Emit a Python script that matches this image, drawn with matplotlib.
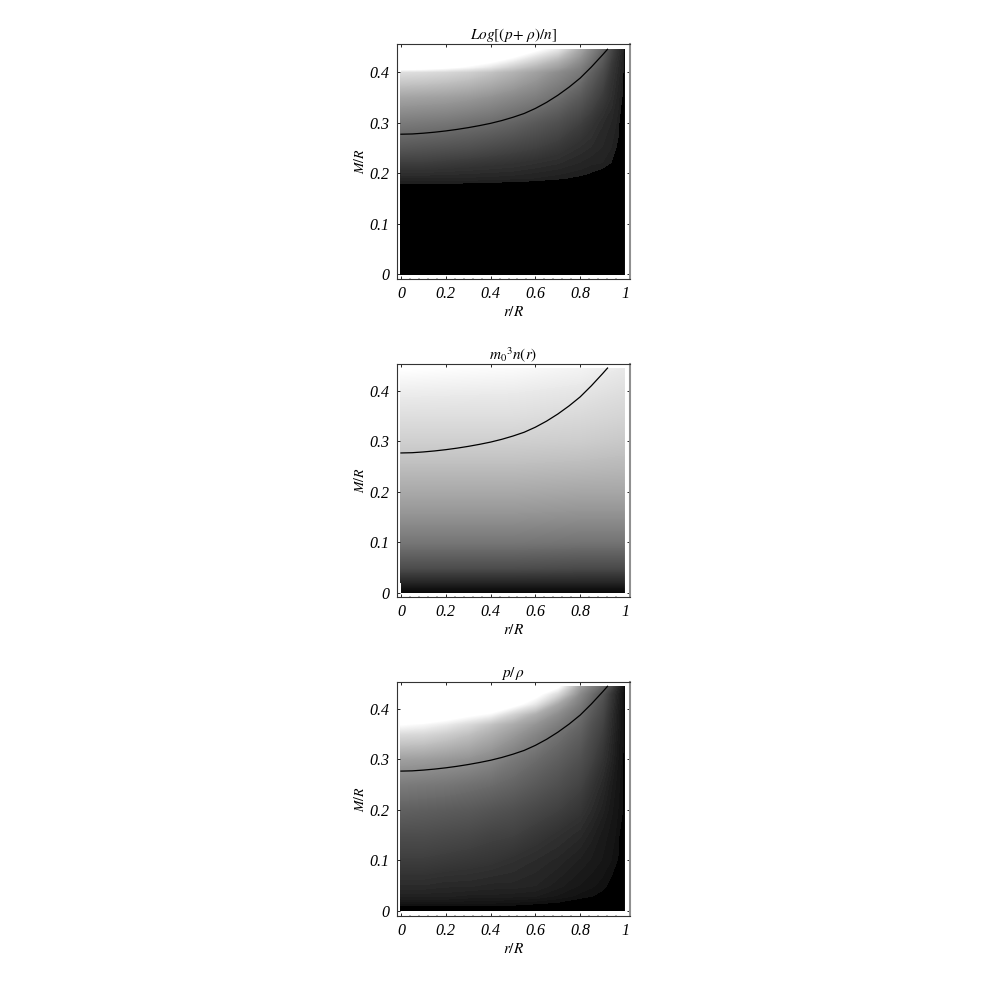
import numpy as np
import matplotlib
matplotlib.use("Agg")
import matplotlib.pyplot as plt

plt.rcParams['font.family'] = ['Liberation Serif', 'DejaVu Serif']
plt.rcParams['mathtext.fontset'] = 'stix'

# shade levels, rows go up in M/R, columns go right in r/R.
# values past 0 or 1 just saturate to black / white
r_fine = [0, .1, .2, .3, .4, .5, .6, .7, .8, .85, .9, .94, .97, .99, 1]
M_log = [0, .15, .18, .19, .2, .22, .25, .3, .35, .4, .41, .42, .43, .445]
grey_log = [
    [-.2, -.2, -.2, -.2, -.2, -.2, -.2, -.2, -.2, -.2, -.2, -.2, -.2, -.2, -.2],
    [.03, .03, .03, .03, .03, .03, .03, .03, .02, .01, 0, -.02, -.05, -.1, -.15],
    [.12, .12, .12, .118, .115, .11, .105, .095, .08, .07, .055, .03, 0, -.05, -.1],
    [.15, .15, .15, .148, .145, .14, .135, .125, .112, .10, .085, .06, .02, -.04, -.1],
    [.18, .18, .175, .17, .165, .16, .15, .14, .128, .118, .105, .095, .05, -.03, -.1],
    [.24, .24, .23, .22, .21, .20, .185, .17, .15, .14, .135, .118, .085, -.02, -.1],
    [.34, .33, .32, .31, .29, .27, .25, .22, .18, .165, .15, .135, .112, 0, -.1],
    [.48, .47, .46, .44, .42, .39, .35, .31, .25, .21, .17, .15, .13, .07, -.1],
    [.64, .63, .62, .60, .57, .53, .49, .43, .35, .29, .23, .18, .14, .115, -.05],
    [.87, .86, .84, .81, .76, .70, .63, .55, .47, .38, .30, .21, .16, .135, 0],
    [1.1, 1.08, 1.03, .97, .90, .80, .71, .62, .50, .41, .32, .22, .165, .135, .01],
    [1.3, 1.25, 1.15, 1.07, 1, .90, .79, .68, .54, .44, .34, .23, .17, .14, .02],
    [1.4, 1.4, 1.3, 1.2, 1.1, 1, .88, .76, .58, .47, .36, .25, .18, .14, .03],
    [1.6, 1.6, 1.5, 1.4, 1.3, 1.15, 1.02, .90, .65, .52, .40, .27, .19, .15, .05],
]

r_n = [0, .5, .8, 1]
M_n = [0, .01, .02, .05, .1, .15, .2, .25, .3, .35, .4, .445]
grey_n = [
    [.03, .03, .03, .03],
    [.08, .08, .08, .08],
    [.14, .14, .14, .14],
    [.30, .30, .29, .29],
    [.46, .46, .45, .45],
    [.57, .57, .56, .56],
    [.66, .66, .65, .65],
    [.74, .74, .73, .72],
    [.81, .81, .80, .78],
    [.87, .87, .85, .83],
    [.93, .92, .90, .87],
    [1, .98, .95, .91],
]

M_p = [0, .005, .01, .015, .03, .05, .1, .15, .2, .25, .3, .35, .37, .39, .41, .43, .445]
grey_p = [
    [-.1, -.1, -.1, -.1, -.1, -.1, -.1, -.1, -.1, -.1, -.1, -.1, -.1, -.1, -.1],
    [.03, .03, .03, .03, .03, .03, .02, .01, 0, -.01, -.02, -.03, -.05, -.08, -.1],
    [.06, .06, .06, .06, .058, .056, .052, .045, .03, .02, 0, -.02, -.04, -.07, -.1],
    [.08, .08, .08, .078, .075, .07, .062, .055, .04, .03, .02, 0, -.03, -.06, -.1],
    [.13, .13, .13, .12, .12, .115, .11, .09, .07, .062, .05, .03, 0, -.05, -.1],
    [.17, .17, .16, .16, .15, .15, .14, .115, .09, .08, .068, .05, .02, -.04, -.1],
    [.24, .24, .23, .22, .21, .19, .17, .15, .12, .105, .09, .075, .057, -.02, -.1],
    [.30, .30, .29, .28, .26, .25, .22, .19, .16, .13, .10, .085, .068, .02, -.1],
    [.38, .37, .36, .35, .33, .31, .28, .25, .21, .17, .13, .095, .075, .06, -.08],
    [.48, .47, .46, .44, .42, .39, .35, .31, .26, .21, .16, .11, .08, .065, -.06],
    [.62, .61, .59, .57, .53, .47, .42, .37, .31, .26, .20, .14, .09, .07, -.04],
    [.85, .84, .80, .75, .68, .60, .52, .44, .37, .30, .24, .16, .10, .075, -.02],
    [1, .97, .92, .85, .76, .67, .58, .49, .40, .32, .26, .17, .11, .075, -.01],
    [1.25, 1.2, 1.1, 1.03, .97, .82, .68, .55, .43, .35, .28, .18, .11, .075, 0],
    [1.5, 1.4, 1.3, 1.22, 1.15, 1.05, .90, .65, .48, .38, .30, .20, .12, .08, .01],
    [1.7, 1.6, 1.5, 1.4, 1.3, 1.2, 1.05, .85, .54, .43, .33, .21, .13, .08, .02],
    [1.9, 1.8, 1.7, 1.6, 1.5, 1.35, 1.2, 1.02, .62, .50, .40, .27, .16, .09, .02],
]

# black curve, same on all three panels
curve_r = [0, .05, .1, .15, .2, .25, .3, .35, .4, .45, .5, .55, .6, .65, .7, .75, .8, .85, .9, .922]
curve_M = [.277, .2775, .279, .281, .2835, .2865, .290, .294, .2985, .304, .3105, .318, .328, .340, .354, .370, .388, .410, .434, .445]

titles = [r'$\mathit{Log}[(p\!+\,\rho)/n]$', r'$m_0{}^3 n(r)$', r'$p/\,\rho$']
xtick_vals = [0, .2, .4, .6, .8, 1]
xtick_labels = ['0', '0.2', '0.4', '0.6', '0.8', '1']
ytick_vals = [0, .1, .2, .3, .4]
ytick_labels = ['0', '0.1', '0.2', '0.3', '0.4']

# frame boxes in pixels (left, top, right, bottom) and axis limits
W = 981.0
boxes = [(396.5, 44, 630, 279), (396.5, 363.5, 630, 597), (396.5, 682, 630, 916)]
ylims = [(-.0093, .4554), (-.0080, .4540), (-.0100, .4535)]
fields = [(r_fine, M_log, grey_log), (r_n, M_n, grey_n), (r_fine, M_p, grey_p)]
# visible bands in the dark part, smooth above it
level_sets = [
    np.concatenate([np.arange(.12, .19, .016), np.arange(.2, 1.0001, .004)]),
    np.arange(0, 1.0001, .004),
    np.concatenate([np.arange(.06, .19, .016), np.arange(.2, 1.0001, .004)]),
]

cmap = plt.get_cmap('gray').with_extremes(under='black', over='white')

fig = plt.figure(figsize=(9.81, 9.81), dpi=100)

for i in range(3):
    l, t, rgt, b = boxes[i]
    ax = fig.add_axes([l / W, 1 - b / W, (rgt - l) / W, (b - t) / W])
    rr, mm, gg = fields[i]
    ax.contourf(rr, mm, np.array(gg), levels=level_sets[i], cmap=cmap, vmin=0, vmax=1, extend='both')
    ax.axvline(1.004, color='white', lw=1.5)  # tidies the jagged right edge of the fill
    ax.plot(curve_r, curve_M, color='black', lw=.9)
    ax.set_xlim(-.02, 1.0223)
    ax.set_ylim(*ylims[i])
    ax.set_xticks(xtick_vals, xtick_labels, style='italic', fontsize=11.5)
    ax.set_yticks(ytick_vals, ytick_labels, style='italic', fontsize=11.5)
    ax.set_xticks(np.arange(0, 1.01, .04), minor=True)
    ax.set_yticks(np.arange(0, .441, .02), minor=True)
    ax.tick_params(which='major', direction='in', length=2, width=.6, top=True, right=True, pad=5)
    ax.tick_params(which='minor', direction='in', length=1, width=.35, top=True, right=True)
    ax.set_xlabel(r'$r/R$', fontsize=11, labelpad=2.5)
    ax.set_ylabel(r'$M/R$', fontsize=10, labelpad=1.5)
    ax.set_title(titles[i], fontsize=11, pad=3)
    for side in ['left', 'top', 'bottom']:
        ax.spines[side].set_linewidth(.8)
        ax.spines[side].set_color('#333333')
    ax.spines['right'].set_linewidth(1.5)
    ax.spines['right'].set_color('#909090')

fig.savefig('out.png', dpi=100)
